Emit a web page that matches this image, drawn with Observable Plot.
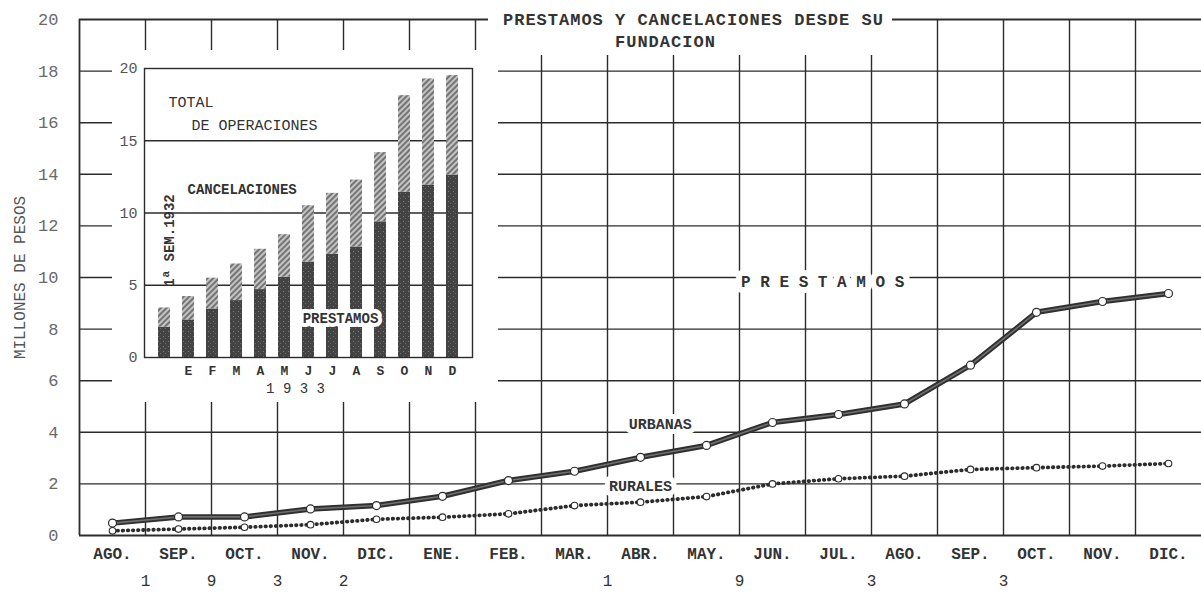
<!DOCTYPE html>
<html>
<head>
<meta charset="utf-8">
<script src="https://cdn.jsdelivr.net/npm/d3@7"></script>
<script src="https://cdn.jsdelivr.net/npm/@observablehq/plot@0.6"></script>
<style>
  html, body { margin: 0; padding: 0; background: #fff; }
  #wrap { position: relative; width: 1201px; height: 595px; overflow: hidden; background: #fff; }
  #main, #inset, #title { position: absolute; }
  #main { left: 0; top: 0; }
  #inset { left: 112px; top: 50px; width: 386px; height: 352px; background: #fff; }
  #title { left: 488px; top: 0; width: 404px; height: 55px; background: #fff; box-sizing: border-box;
           padding: 10px 0 0 15px; font-family: "Liberation Mono", monospace; font-size: 17px; font-weight: bold;
           letter-spacing: 1px; line-height: 22px; color: #333; white-space: pre; }
  g[aria-label="ytitle"] text { letter-spacing: 3.5px; }
  g[aria-label="mainlab"] text { letter-spacing: 1px; }
  g[aria-label="inslab"] text { letter-spacing: 2px; }
  g[aria-label="semlab"] text { letter-spacing: 2.7px; }
  g[aria-label="yearlab"] text { letter-spacing: 2.5px; }
</style>
</head>
<body>
<svg width="0" height="0" style="position:absolute">
  <defs>
    <pattern id="hatch" patternUnits="userSpaceOnUse" width="4" height="4" patternTransform="rotate(45)">
      <rect width="4" height="4" fill="#c4c4c4"></rect>
      <line x1="1" y1="0" x2="1" y2="4" stroke="#666" stroke-width="1.7"></line>
    </pattern>
    <pattern id="speckle" patternUnits="userSpaceOnUse" width="5" height="5">
      <rect width="5" height="5" fill="#434343"></rect>
      <rect x="1" y="1" width="1" height="1" fill="#7a7a7a"></rect>
      <rect x="3" y="3" width="1" height="1" fill="#6a6a6a"></rect>
    </pattern>
  </defs>
</svg>
<div id="wrap">
  <div id="main"></div>
  <div id="inset"></div>
  <div id="title">PRESTAMOS Y CANCELACIONES DESDE SU
          FUNDACION</div>
</div>
<script>
// ---- Main chart data (millones de pesos, préstamos acumulados) ----
const months = ["AGO.","SEP.","OCT.","NOV.","DIC.","ENE.","FEB.","MAR.","ABR.","MAY.","JUN.","JUL.","AGO.","SEP.","OCT.","NOV.","DIC."];
const urbanas = [0.48, 0.72, 0.72, 1.03, 1.16, 1.52, 2.13, 2.49, 3.03, 3.49, 4.38, 4.69, 5.10, 6.60, 8.65, 9.07, 9.38];
const rurales = [0.18, 0.25, 0.32, 0.42, 0.63, 0.71, 0.84, 1.16, 1.29, 1.51, 2.00, 2.20, 2.30, 2.56, 2.63, 2.69, 2.79];
const yTicks = [0, 2, 4, 6, 8, 10, 12, 14, 16, 18, 20];
const yearDigits = ["1", "9", "3", "2", "1", "9", "3", "3"];
const yearDigitAfterMonth = [0, 1, 2, 3, 7, 9, 11, 13];

// ---- Inset: total de operaciones ----
const insetLetters = ["", "E", "F", "M", "A", "M", "J", "J", "A", "S", "O", "N", "D"];
const insetTotal = [3.43, 4.22, 5.49, 6.47, 7.49, 8.50, 10.50, 11.36, 12.28, 14.18, 18.12, 19.28, 19.51];
const insetPrestamos = [2.10, 2.60, 3.36, 3.94, 4.70, 5.56, 6.60, 7.14, 7.65, 9.39, 11.43, 11.94, 12.63];
const insetTicks = [0, 5, 10, 15, 20];

const FONT = "'Liberation Mono', 'DejaVu Sans Mono', monospace";
const INK = "#2c2c2c";
const W = "bold";

const rows = months.map((m, i) => ({i, m, u: urbanas[i], r: rurales[i]}));

const main = Plot.plot({
  width: 1201, height: 595,
  marginLeft: 79, marginRight: 0, marginTop: 19, marginBottom: 60,
  style: {fontFamily: FONT, background: "white", color: INK, overflow: "visible"},
  x: {domain: [-0.5, 16.5], axis: null},
  y: {domain: [0, 20], axis: null},
  marks: [
    Plot.ruleY(d3.range(2, 20, 2), {stroke: INK, strokeWidth: 1.4}),
    Plot.ruleX(d3.range(0.5, 16, 1), {stroke: INK, strokeWidth: 1.4}),
    Plot.ruleY([0, 20], {stroke: INK, strokeWidth: 1.8}),
    Plot.ruleX([-0.5], {stroke: INK, strokeWidth: 1.8}),
    Plot.axisY(yTicks, {tickSize: 0, tickPadding: 21, fontSize: 17, fill: "#6a6a6a", label: null}),
    Plot.axisX(d3.range(17), {tickSize: 0, tickPadding: 12, fontSize: 16, fontWeight: W, fill: "#333", tickFormat: i => months[i], label: null}),
    Plot.text(["MILLONES DE PESOS"], {frameAnchor: "left", textAnchor: "middle", dx: -60, rotate: -90, fontSize: 16, fill: "#555", ariaLabel: "ytitle"}),
    Plot.text(yearDigits, {x: (d, k) => yearDigitAfterMonth[k] + 0.5, frameAnchor: "bottom", dy: 50, fontSize: 16, fill: "#333"}),
    Plot.text(["URBANAS"], {x: 8.3, y: 4.3, fontSize: 15, fontWeight: W, fill: "#333", stroke: "white", strokeWidth: 10, paintOrder: "stroke", ariaLabel: "mainlab"}),
    Plot.text(["RURALES"], {x: 8.0, y: 1.9, fontSize: 15, fontWeight: W, fill: "#333", stroke: "white", strokeWidth: 10, paintOrder: "stroke", ariaLabel: "mainlab"}),
    Plot.text(["P R E S T A M O S"], {x: 10.76, y: 9.84, fontSize: 16, fontWeight: W, fill: "#333", stroke: "white", strokeWidth: 12, paintOrder: "stroke", ariaLabel: "mainlab"}),
    Plot.line(rows, {x: "i", y: "r", stroke: INK, strokeWidth: 3.8, strokeDasharray: "0.5,4.6", strokeLinecap: "round"}),
    Plot.dot(rows, {x: "i", y: "r", r: 3.3, fill: "white", stroke: INK, strokeWidth: 1.1}),
    Plot.line(rows, {x: "i", y: "u", stroke: "#303030", strokeWidth: 5.5}),
    Plot.line(rows, {x: "i", y: "u", stroke: "#707070", strokeWidth: 1.6}),
    Plot.dot(rows, {x: "i", y: "u", r: 4, fill: "white", stroke: INK, strokeWidth: 1.2})
  ]
});
document.getElementById("main").appendChild(main);

const insetRows = insetTotal.map((t, i) => ({i, t, p: insetPrestamos[i]}));

const inset = Plot.plot({
  width: 386, height: 352,
  marginLeft: 32, marginRight: 26, marginTop: 18, marginBottom: 45,
  style: {fontFamily: FONT, background: "white", color: INK},
  x: {type: "band", domain: d3.range(13), paddingInner: 0.5, paddingOuter: 0.525, axis: null},
  y: {domain: [0, 20], axis: null},
  marks: [
    Plot.ruleY([5, 10, 15], {stroke: INK, strokeWidth: 1.3}),
    Plot.barY(insetRows, {x: "i", y1: 0, y2: "p", fill: "url(#speckle)"}),
    Plot.barY(insetRows, {x: "i", y1: "p", y2: "t", fill: "url(#hatch)"}),
    Plot.frame({stroke: INK, strokeWidth: 1.4}),
    Plot.axisY(insetTicks, {tickSize: 0, tickPadding: 7, fontSize: 15, fill: "#555", label: null}),
    Plot.axisX(d3.range(13), {tickSize: 0, tickPadding: 8, fontSize: 13, fontWeight: W, fill: "#333", tickFormat: i => insetLetters[i], label: null}),
    Plot.text(["1 9 3 3"], {x: 5, frameAnchor: "bottom", dy: 35, dx: 11, fontSize: 14, fill: "#333", ariaLabel: "yearlab"}),
    Plot.text(["TOTAL"], {x: 0, y: 17.7, textAnchor: "start", dx: 4, fontSize: 15, fill: "#333", ariaLabel: "inslab"}),
    Plot.text(["DE OPERACIONES"], {x: 1, y: 16.1, textAnchor: "start", dx: 3, fontSize: 15, fill: "#333", ariaLabel: "inslab"}),
    Plot.text(["CANCELACIONES"], {x: 1, y: 11.6, textAnchor: "start", dx: -1, fontSize: 14, fontWeight: W, fill: "#333", ariaLabel: "inslab"}),
    Plot.text(["PRESTAMOS"], {x: 7, y: 2.7, dx: 8, fontSize: 14, fontWeight: W, fill: "#333", stroke: "white", strokeWidth: 8, paintOrder: "stroke", ariaLabel: "inslab"}),
    Plot.text(["1ª SEM.1932"], {x: 0, y: 8.1, rotate: -90, dx: 5, fontSize: 14, fontWeight: W, fill: "#333", ariaLabel: "semlab"})
  ]
});
document.getElementById("inset").appendChild(inset);
</script>
</body>
</html>
